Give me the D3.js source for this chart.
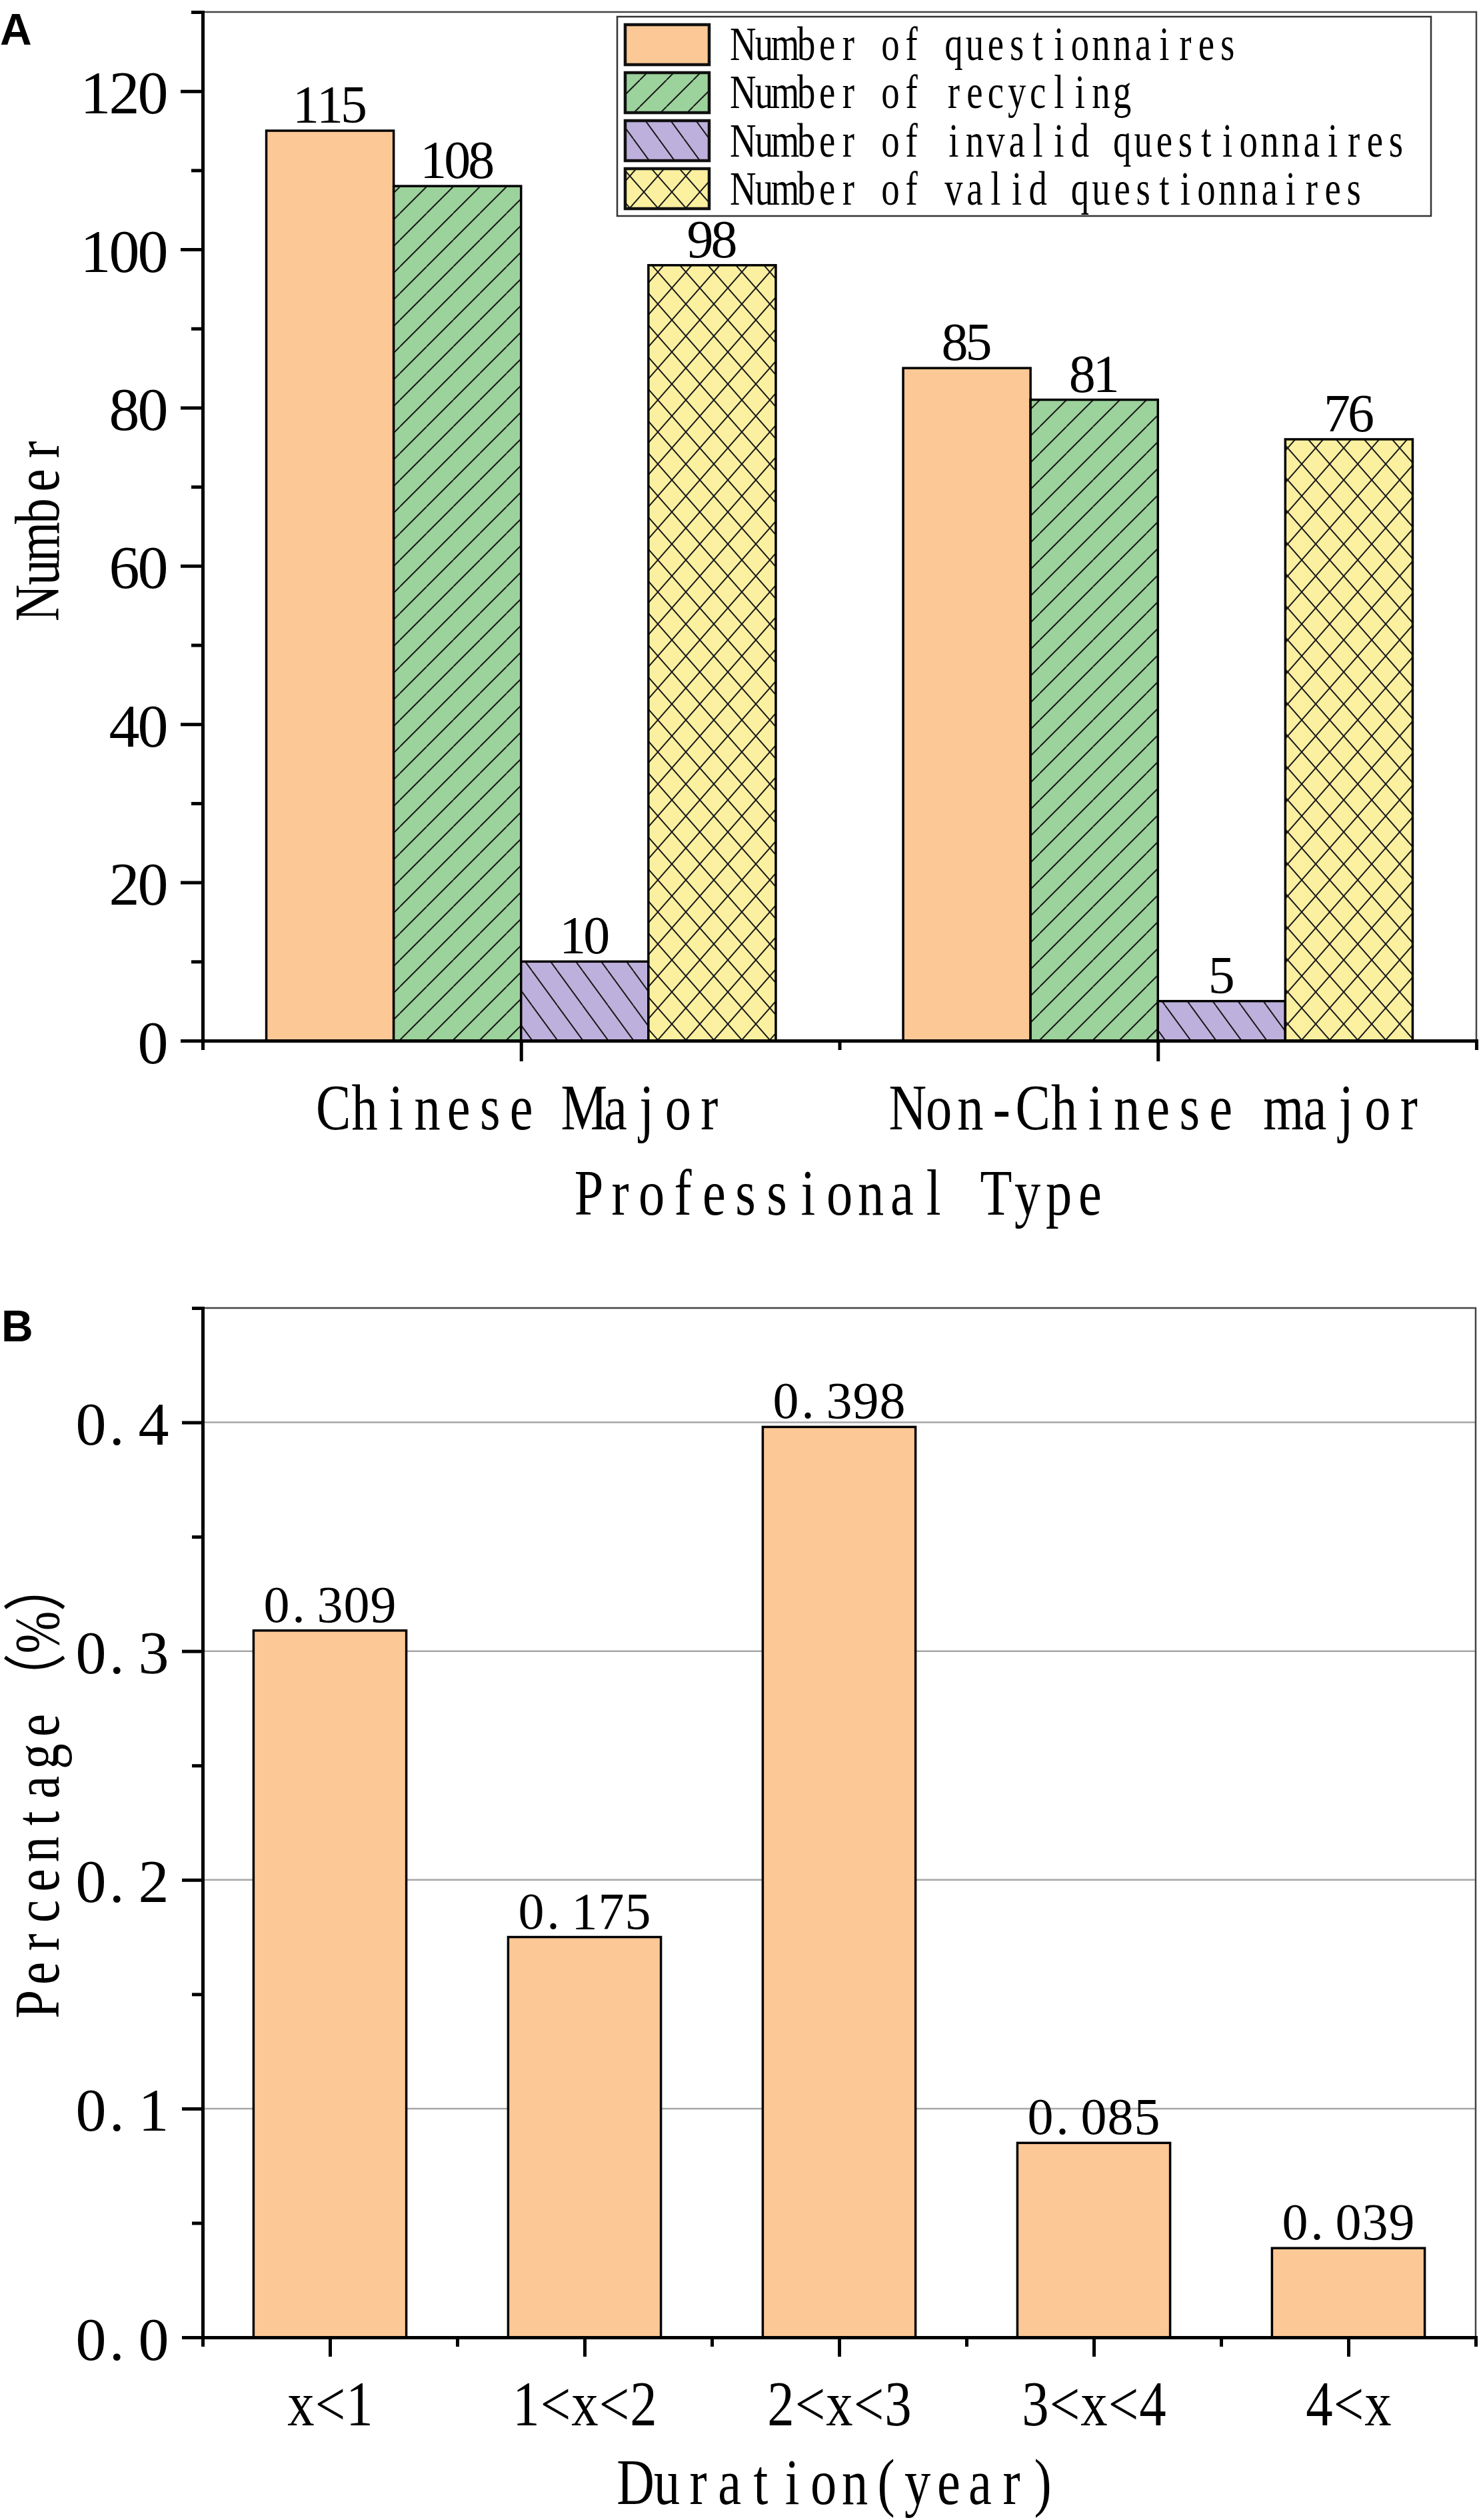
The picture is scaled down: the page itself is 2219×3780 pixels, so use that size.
<!DOCTYPE html>
<html>
<head>
<meta charset="utf-8">
<script src="https://cdn.jsdelivr.net/npm/d3@7"></script>
<style>
  body { margin: 0; background: #fff; }
  svg { display: block; }
</style>
</head>
<body>
<script>
// panel A data
var categoriesA = ["Chinese Major", "Non-Chinese major"];
var seriesA = ["Number of questionnaires", "Number of recycling",
               "Number of invalid questionnaires", "Number of valid questionnaires"];
var questionnaires = [115, 85];
var recycling = [108, 81];
var invalid = [10, 5];
var valid = [98, 76];
var ticksA = [0, 20, 40, 60, 80, 100, 120];

// panel B data
var categoriesB = ["x<1", "1<x<2", "2<x<3", "3<x<4", "4<x"];
var percentB = [0.309, 0.175, 0.398, 0.085, 0.039];
var ticksB = [0.0, 0.1, 0.2, 0.3, 0.4];

var W = 2219, H = 3780;
var FONT = "'Liberation Serif', 'Noto Sans CJK SC', serif";
var colors = ["#fbc896", "#9cd29c", "#beb0dc", "#faf0a0"];

var svg = d3.select("body").append("svg").attr("width", W).attr("height", H);
var defs = svg.append("defs");

// hatch patterns like the Origin fills
function hatch(id, color, w, h, kind) {
  var p = defs.append("pattern").attr("id", id)
    .attr("patternUnits", "userSpaceOnUse").attr("width", w).attr("height", h);
  p.append("rect").attr("width", w).attr("height", h).attr("fill", color);
  var d = "";
  [-w, 0, w].forEach(function(o) {
    if (kind === "fwd" || kind === "cross") d += "M" + o + "," + h + "L" + (o + w) + ",0";
    if (kind === "back" || kind === "cross") d += "M" + o + ",0L" + (o + w) + "," + h;
  });
  p.append("path").attr("d", d).attr("stroke", "#1a1a1a").attr("stroke-width", 2).attr("fill", "none");
  return "url(#" + id + ")";
}
var fills = [
  colors[0],
  hatch("hGreen", colors[1], 40, 40, "fwd"),
  hatch("hPurple", colors[2], 38, 52, "back"),
  hatch("hYellow", colors[3], 42, 48, "cross")
];

// monospaced text, every glyph centred in its own cell
function monoText(sel, str, o) {
  var chars = Array.from(str);
  var widths = chars.map(function(c) { return /[\u3000-\uffff]/.test(c) ? 2 : 1; });
  var total = d3.sum(widths) * o.cell;
  var start = o.anchor === "end" ? -total : o.anchor === "start" ? 0 : -total / 2;
  var sx = o.sx || 1, acc = 0;
  var xs = chars.map(function(c, i) {
    var cx = start + (acc + widths[i] / 2) * o.cell;
    acc += widths[i];
    if (c === ".") cx -= 0.09 * o.size;
    return (cx / sx).toFixed(1);
  });
  return sel.append("text")
    .attr("transform", "translate(" + o.x + "," + o.y + ") rotate(" + (o.rotate || 0) + ") scale(" + sx + ",1)")
    .attr("x", xs.join(" ")).attr("y", 0)
    .attr("text-anchor", "middle")
    .style("font-family", FONT).style("font-size", o.size + "px")
    .attr("fill", "#000")
    .text(str);
}

function styleAxis(g) {
  g.selectAll("text").remove();
  g.selectAll("path, line").attr("stroke", "#000").attr("stroke-width", 5);
  g.select(".domain").attr("stroke-linecap", "square");
}

// ---------- panel A ----------
var gA = svg.append("g");
var yA = d3.scaleLinear().domain([0, 130]).range([1561, 18]);
var xA = d3.scaleLinear().domain([0.5, 2.5]).range([304, 2215]);
var valuesA = [questionnaires, recycling, invalid, valid];

gA.append("path")
  .attr("d", "M" + xA(0.5) + "," + yA(130) + "H" + xA(2.5) + "V" + yA(0))
  .attr("fill", "none").attr("stroke", "#444").attr("stroke-width", 2.5);

var rowsA = [];
categoriesA.forEach(function(c, ci) {
  seriesA.forEach(function(s, si) {
    rowsA.push({ cat: ci + 1, s: si, v: valuesA[si][ci] });
  });
});
var barW = 0.2;
gA.selectAll("rect.bar").data(rowsA).enter().append("rect")
  .attr("class", "bar")
  .attr("x", function(d) { return xA(d.cat - 0.4 + d.s * barW); })
  .attr("width", function(d) { return xA(d.cat - 0.4 + (d.s + 1) * barW) - xA(d.cat - 0.4 + d.s * barW); })
  .attr("y", function(d) { return yA(d.v); })
  .attr("height", function(d) { return yA(0) - yA(d.v); })
  .attr("fill", function(d) { return fills[d.s]; })
  .attr("stroke", "#000").attr("stroke-width", 3.5);

rowsA.forEach(function(d) {
  monoText(gA, String(d.v), {
    x: xA(d.cat - 0.4 + (d.s + 0.5) * barW), y: yA(d.v) - 12, size: 80, cell: 36
  });
});

var yAxA = gA.append("g").attr("transform", "translate(" + xA(0.5) + ",0)");
yAxA.append("g").call(d3.axisLeft(yA).tickValues(d3.range(10, 131, 20)).tickSize(17).tickSizeOuter(0).tickFormat("")).call(styleAxis);
var yMajA = yAxA.append("g").call(d3.axisLeft(yA).tickValues(ticksA).tickSize(33).tickSizeOuter(0).tickFormat("")).call(styleAxis);
yMajA.selectAll(".tick").each(function(d) {
  monoText(d3.select(this), String(d), { x: -53, y: 33, size: 92, cell: 43, anchor: "end" });
});

var xAxA = gA.append("g").attr("transform", "translate(0," + yA(0) + ")");
xAxA.append("g").call(d3.axisBottom(xA).tickValues([0.5, 1.5, 2.5]).tickSize(14).tickSizeOuter(0).tickFormat("")).call(styleAxis);
var xMajA = xAxA.append("g").call(d3.axisBottom(xA).tickValues([1, 2]).tickSize(31).tickSizeOuter(0).tickFormat("")).call(styleAxis);
xMajA.selectAll(".tick").each(function(d) {
  monoText(d3.select(this), categoriesA[d - 1], { x: 0, y: 133, size: 98, cell: 47, sx: 0.8 });
});

monoText(gA, "Professional Type", { x: (xA(0.5) + xA(2.5)) / 2, y: 1822, size: 98, cell: 47, sx: 0.8 });
monoText(gA, "Number", { x: 88, y: (yA(0) + yA(130)) / 2, size: 96, cell: 46, sx: 0.8, rotate: -90 });
gA.append("text").attr("x", 0).attr("y", 67)
  .style("font-family", "'Liberation Sans', Arial, sans-serif").style("font-weight", "bold").style("font-size", "66px")
  .text("A");

// legend
var leg = gA.append("g");
leg.append("rect").attr("x", 926).attr("y", 25).attr("width", 1221).attr("height", 299)
  .attr("fill", "#fff").attr("stroke", "#333").attr("stroke-width", 2.5);
seriesA.forEach(function(s, i) {
  leg.append("rect").attr("x", 938).attr("y", 37 + i * 72).attr("width", 126).attr("height", 60)
    .attr("fill", fills[i]).attr("stroke", "#111").attr("stroke-width", 4.5);
  monoText(leg, s, { x: 1099, y: 90 + i * 72.3, size: 72, cell: 31.6, sx: 0.76, anchor: "start" });
});

// ---------- panel B ----------
var gB = svg.append("g");
var yB = d3.scaleLinear().domain([0, 0.45]).range([3506, 1962]);
var xB = d3.scaleLinear().domain([0.5, 5.5]).range([304, 2214]);

gB.selectAll("line.grid").data(ticksB.slice(1)).enter().append("line")
  .attr("class", "grid")
  .attr("x1", xB(0.5)).attr("x2", xB(5.5))
  .attr("y1", function(d) { return yB(d); }).attr("y2", function(d) { return yB(d); })
  .attr("stroke", "#a6a6a6").attr("stroke-width", 2.5);

gB.append("path")
  .attr("d", "M" + xB(0.5) + "," + yB(0.45) + "H" + xB(5.5) + "V" + yB(0))
  .attr("fill", "none").attr("stroke", "#444").attr("stroke-width", 2.5);

gB.selectAll("rect.bar").data(percentB).enter().append("rect")
  .attr("class", "bar")
  .attr("x", function(d, i) { return xB(i + 1 - 0.3); })
  .attr("width", xB(0.6) - xB(0))
  .attr("y", function(d) { return yB(d); })
  .attr("height", function(d) { return yB(0) - yB(d); })
  .attr("fill", colors[0])
  .attr("stroke", "#000").attr("stroke-width", 3.5);

percentB.forEach(function(v, i) {
  monoText(gB, d3.format(".3f")(v), { x: xB(i + 1), y: yB(v) - 13, size: 78, cell: 40 });
});

var yAxB = gB.append("g").attr("transform", "translate(" + xB(0.5) + ",0)");
yAxB.append("g").call(d3.axisLeft(yB).tickValues([0.05, 0.15, 0.25, 0.35, 0.45]).tickSize(16).tickSizeOuter(0).tickFormat("")).call(styleAxis);
var yMajB = yAxB.append("g").call(d3.axisLeft(yB).tickValues(ticksB).tickSize(31).tickSizeOuter(0).tickFormat("")).call(styleAxis);
yMajB.selectAll(".tick").each(function(d) {
  monoText(d3.select(this), d3.format(".1f")(d), { x: -50, y: 33, size: 92, cell: 47, anchor: "end" });
});

var xAxB = gB.append("g").attr("transform", "translate(0," + yB(0) + ")");
xAxB.append("g").call(d3.axisBottom(xB).tickValues([0.5, 1.5, 2.5, 3.5, 4.5, 5.5]).tickSize(14).tickSizeOuter(0).tickFormat("")).call(styleAxis);
var xMajB = xAxB.append("g").call(d3.axisBottom(xB).tickValues([1, 2, 3, 4, 5]).tickSize(29).tickSizeOuter(0).tickFormat("")).call(styleAxis);
xMajB.selectAll(".tick").each(function(d) {
  monoText(d3.select(this), categoriesB[d - 1], { x: 0, y: 132, size: 95, cell: 44, sx: 0.85 });
});

monoText(gB, "Duration(year)", { x: (xB(0.5) + xB(5.5)) / 2, y: 3756, size: 98, cell: 47, sx: 0.8 });
monoText(gB, "Percentage（%）", { x: 88, y: 2681, size: 96, cell: 46.5, sx: 0.8, rotate: -90 });
gB.append("text").attr("x", 2).attr("y", 2012)
  .style("font-family", "'Liberation Sans', Arial, sans-serif").style("font-weight", "bold").style("font-size", "66px")
  .text("B");
</script>
</body>
</html>
